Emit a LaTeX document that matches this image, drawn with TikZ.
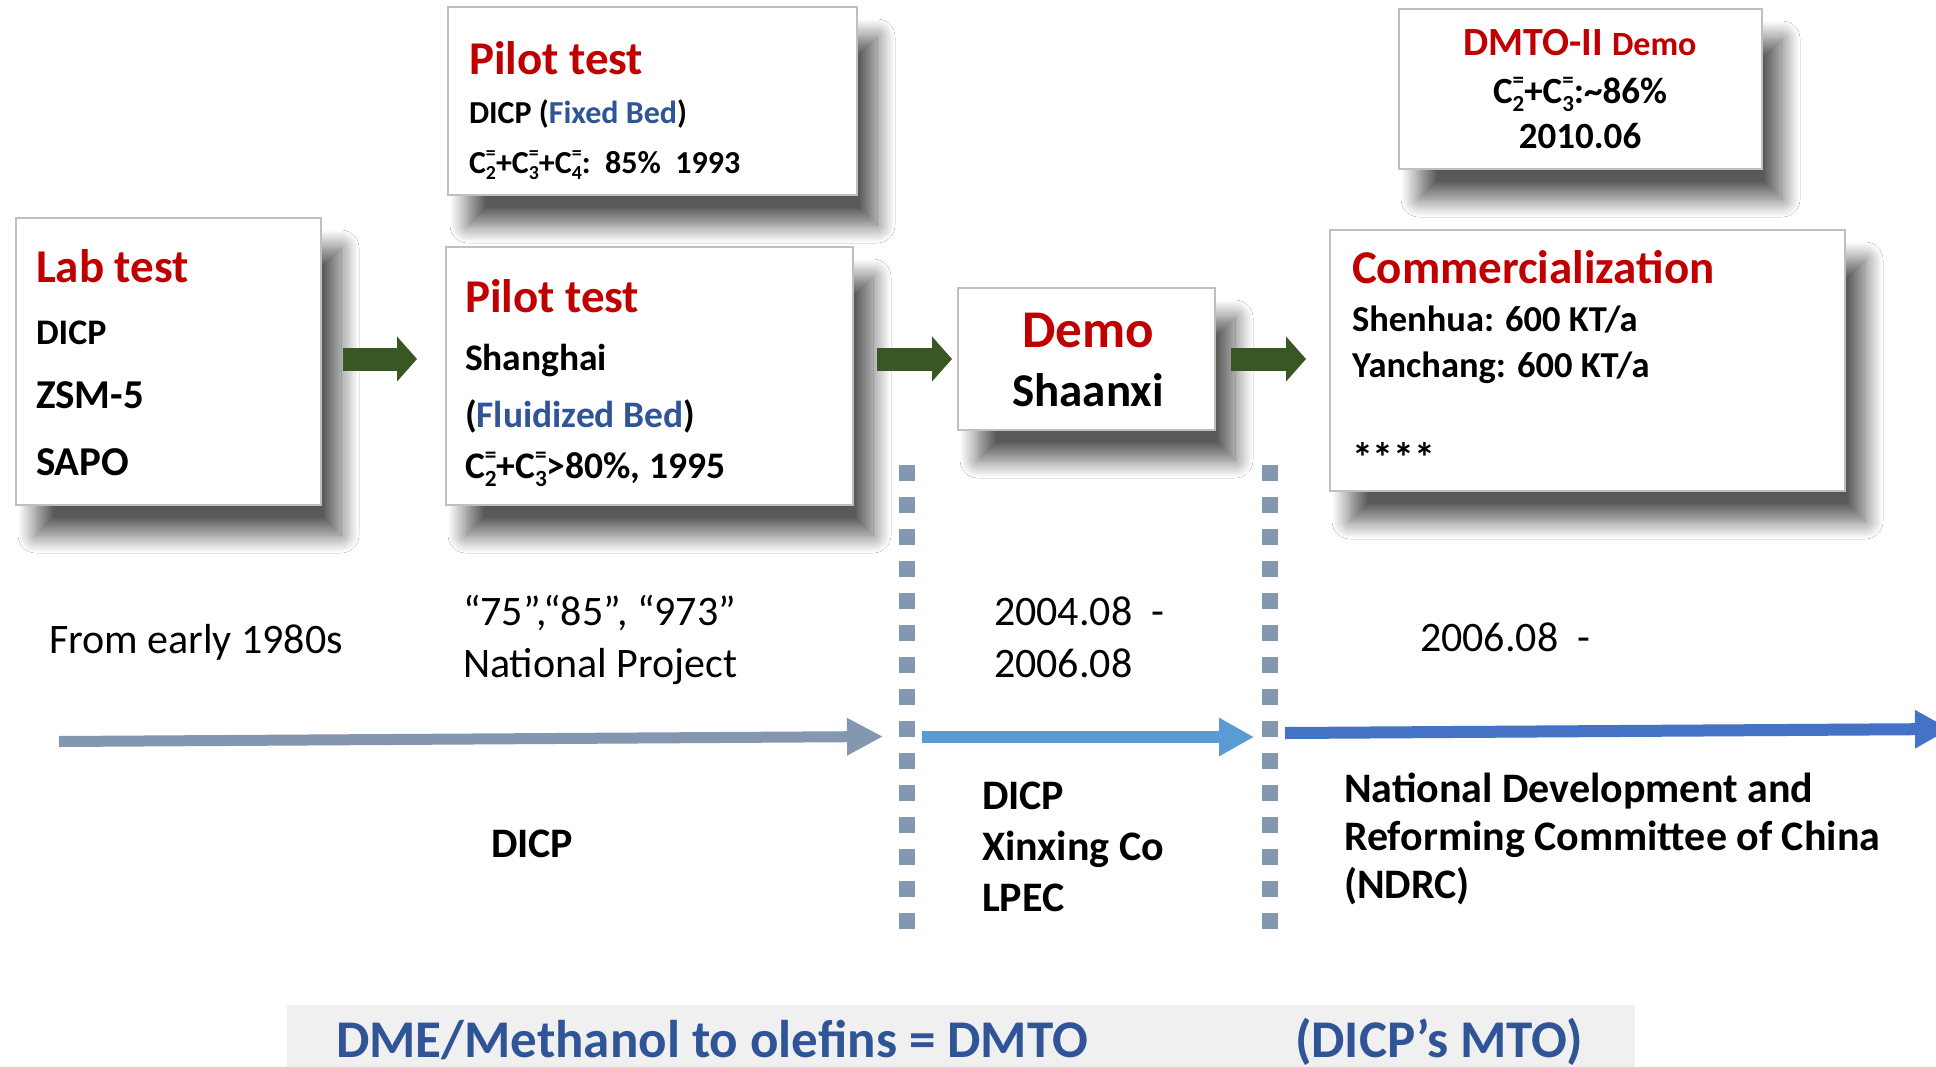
\documentclass[tikz,border=0pt]{standalone}
\usepackage{fontspec}
\usepackage{graphicx}
\setmainfont{Carlito}
\usetikzlibrary{arrows.meta,shadows.blur}
\definecolor{dred}{RGB}{192,0,0}
\definecolor{dblue}{RGB}{47,85,151}
\definecolor{dgreen}{RGB}{56,87,35}
\definecolor{slate}{RGB}{132,151,176}
\definecolor{sky}{RGB}{91,155,213}
\definecolor{royal}{RGB}{68,114,196}
\definecolor{edge}{RGB}{191,191,191}
\definecolor{band}{RGB}{240,240,240}
\newcommand{\olf}[1]{C\rlap{\raisebox{0.85ex}{\scalebox{0.62}{=}}}\raisebox{-0.45ex}{\scalebox{0.62}{#1}}}

\begin{document}
\begin{tikzpicture}[x=0.5pt,y=-0.5pt]
        \tikzstyle{every node}+=[inner sep=0pt, outer sep=0pt]
        \tikzstyle{card}=[draw=edge, line width=0.6pt, fill=white, blur shadow={shadow xshift=10pt, shadow yshift=-15pt, shadow blur radius=9pt, shadow blur steps=20, shadow opacity=65}]
        \tikzstyle{ttl}=[anchor=base west, text=dred, font=\bfseries\fontsize{23.5}{28}\selectfont]
        \tikzstyle{tl}=[anchor=base west, font=\fontsize{21}{25}\selectfont]
        \tikzstyle{tb}=[anchor=base west, font=\bfseries\fontsize{21}{25}\selectfont]
        \tikzstyle{garrow}=[dgreen, line width=11.5pt, -{Triangle[length=10pt,width=22pt]}]
        \tikzstyle{dots}=[slate, line width=8pt, dash pattern=on 8pt off 8pt]
        \clip (0,0) rectangle (1936,1066);
        \fill [white] (0,0) rectangle (1936,1066);
        \node [card, minimum width=204.5pt, minimum height=94pt] (pt1) at (652.5,101) {};
        \node [card, minimum width=181.5pt, minimum height=80pt] (dm2) at (1580.5,89) {};
        \node [card, minimum width=152.5pt, minimum height=143.5pt] (lab) at (168.5,361.5) {};
        \node [card, minimum width=203.5pt, minimum height=129pt] (pt2) at (649.5,376) {};
        \node [card, minimum width=128.5pt, minimum height=71pt] (demo) at (1086.5,359) {};
        \node [card, minimum width=257.5pt, minimum height=130.5pt] (comm) at (1587.5,360.5) {};
        \node [ttl] (labT) at (36,282) {Lab test};
        \node [tb, font=\bfseries\fontsize{18}{22}\selectfont] (lab1) at (36,344) {DICP};
        \node [tb, font=\bfseries\fontsize{20.5}{24}\selectfont] (lab2) at (36,408) {ZSM-5};
        \node [tb, font=\bfseries\fontsize{20.5}{24}\selectfont] (lab3) at (36,475) {SAPO};
        \node [ttl] (pt1T) at (469,74) {Pilot test};
        \node [tb, font=\bfseries\fontsize{16}{20}\selectfont] (pt1a) at (469,123) {DICP (\textcolor{dblue}{Fixed Bed})};
        \node [tb, font=\bfseries\fontsize{16}{20}\selectfont] (pt1b) at (469,173) {\olf{2}+\olf{3}+\olf{4}:\ \ 85\%\ \ 1993};
        \node [ttl] (pt2T) at (465,312) {Pilot test};
        \node [tb, font=\bfseries\fontsize{18.75}{22}\selectfont] (pt2a) at (465,370) {Shanghai};
        \node [tb, font=\bfseries\fontsize{18.75}{22}\selectfont] (pt2b) at (465,427) {(\textcolor{dblue}{Fluidized Bed})};
        \node [tb, font=\bfseries\fontsize{18.75}{22}\selectfont] (pt2c) at (465,478) {\olf{2}+\olf{3}>80\%, 1995};
        \node [ttl, anchor=base, font=\bfseries\fontsize{26.5}{30}\selectfont] (demoT) at (1088,347) {Demo};
        \node [tb, anchor=base, font=\bfseries\fontsize{23.5}{28}\selectfont] (demo1) at (1088,406) {Shaanxi};
        \node [ttl] (commT) at (1352,283) {Commercialization};
        \node [tb, font=\bfseries\fontsize{18.25}{22}\selectfont] (comm1) at (1352,331) {Shenhua: 600 KT/a};
        \node [tb, font=\bfseries\fontsize{18.25}{22}\selectfont] (comm2) at (1352,377) {Yanchang: 600 KT/a};
        \node [tb, font=\bfseries\fontsize{21}{24}\selectfont] (comm3) at (1352,472) {****};
        \node [ttl, anchor=base, font=\bfseries\fontsize{20}{24}\selectfont] (dm2T) at (1580,55) {DMTO-II {\fontsize{17}{20}\selectfont Demo}};
        \node [tb, anchor=base, font=\bfseries\fontsize{18.5}{22}\selectfont] (dm2a) at (1580,103) {\olf{2}+\olf{3}:\textasciitilde86\%};
        \node [tb, anchor=base, font=\bfseries\fontsize{18.5}{22}\selectfont] (dm2b) at (1580,148) {2010.06};
        \draw [garrow, shorten <=11pt, shorten >=14.5pt] (lab.east |- demo) -- (pt2.west |- demo);
        \draw [garrow, shorten <=12pt, shorten >=3pt] (pt2.east |- demo) -- (demo.west);
        \draw [garrow, shorten <=8pt, shorten >=12pt] (demo.east) -- (comm.west |- demo);
        \coordinate (d1t) at (907,465);
        \coordinate (d1b) at (907,929);
        \coordinate (d2t) at (1270,465);
        \coordinate (d2b) at (1270,929);
        \draw [dots] (d1t) -- (d1b);
        \draw [dots] (d2t) -- (d2b);
        \coordinate (a0) at (59,741.5);
        \coordinate (a1) at (883,736.5);
        \coordinate (b0) at (922,737);
        \coordinate (b1) at (1254,737);
        \coordinate (c0) at (1285,733);
        \coordinate (c1) at (1950,729);
        \draw [slate, line width=5.5pt, -{Triangle[length=18pt,width=17.5pt]}] (a0) -- (a1);
        \draw [sky, line width=6pt, -{Triangle[length=17.5pt,width=18pt]}] (b0) -- (b1);
        \draw [royal, line width=6pt, -{Triangle[length=17.5pt,width=18pt]}] (c0) -- (c1);
        \node [tl] (y1) at (49,653) {From early 1980s};
        \node [tl] (y2) at (463,625) {“75”,“85”, “973”};
        \node [tl] (y3) at (463,677) {National Project};
        \node [tl] (y4) at (994,625) {2004.08\ \ -};
        \node [tl] (y5) at (994,677) {2006.08};
        \node [tl] (y6) at (1420,651) {2006.08\ \ -};
        \node [tb] (w1) at (491,857) {DICP};
        \node [tb] (w2) at (982,809) {DICP};
        \node [tb] (w3) at (982,860) {Xinxing Co};
        \node [tb] (w4) at (982,911) {LPEC};
        \node [tb] (w5) at (1344,802) {National Development and};
        \node [tb] (w6) at (1344,850) {Reforming Committee of China};
        \node [tb] (w7) at (1344,898) {(NDRC)};
        \node [fill=band, minimum width=674pt, minimum height=31pt] (ban) at (961,1036) {};
        \node [tb, text=dblue, font=\bfseries\fontsize{26.5}{30}\selectfont] (ban1) at (336,1057) {DME/Methanol to olefins = DMTO};
        \node [tb, text=dblue, font=\bfseries\fontsize{26.5}{30}\selectfont] (ban2) at (1295,1057) {(DICP’s MTO)};
    \end{tikzpicture}
\end{document}
